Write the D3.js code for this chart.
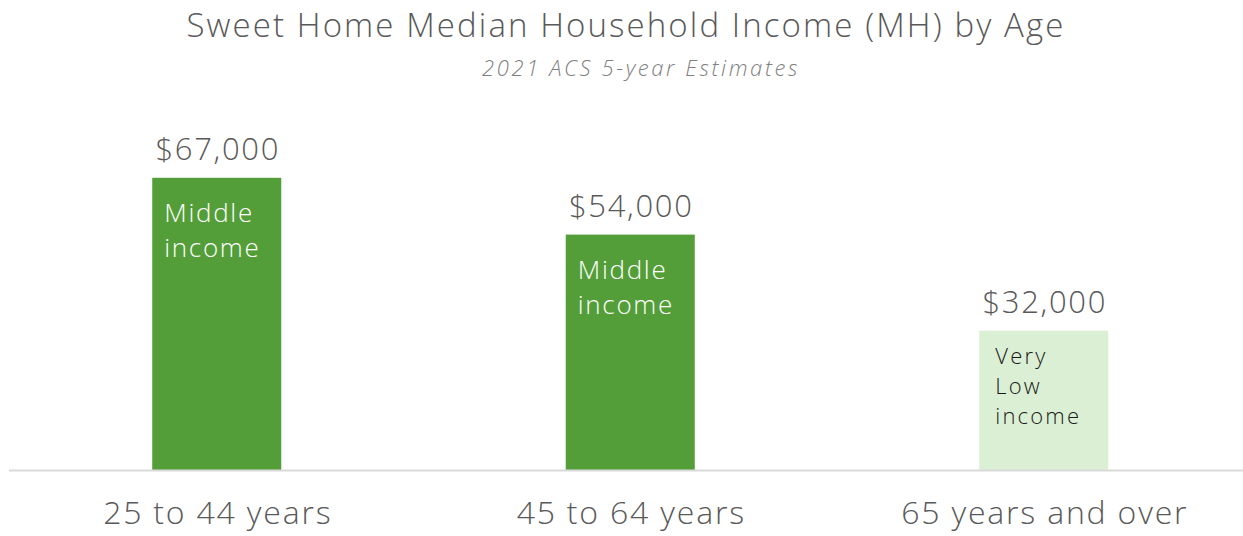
<!DOCTYPE html>
<html>
<head>
<meta charset="utf-8">
<script src="https://cdn.jsdelivr.net/npm/d3@7"></script>
<style>
  html, body { margin: 0; padding: 0; background: #fff; }
  svg { display: block; font-family: "Open Sans", "DejaVu Sans", sans-serif; }
</style>
</head>
<body>
<svg id="chart" width="1243" height="536"></svg>
<script>
const categories = ["25 to 44 years", "45 to 64 years", "65 years and over"];
const values = [67000, 54000, 32000];
const valueLabels = ["$67,000", "$54,000", "$32,000"];
const incomeClass = [["Middle", "income"], ["Middle", "income"], ["Very", "Low", "income"]];
const classKind = ["middle", "middle", "verylow"];
const title = "Sweet Home Median Household Income (MH) by Age";
const subtitle = "2021 ACS 5-year Estimates";

const W = 1243, H = 536;
const svg = d3.select("#chart");

const fill = { middle: "#549e39", verylow: "#daefd4" };
const textFill = { middle: "#ffffff", verylow: "#1a1a1a" };

const x = d3.scaleBand().domain(categories).range([10, 1250.5]).paddingInner(0.688).paddingOuter(0.344);
const y = d3.scaleLinear().domain([0, 80000]).range([470.5, 121]);

svg.append("text").attr("x", 626).attr("y", 37).attr("text-anchor", "middle")
  .attr("font-size", 33).attr("font-weight", 300).attr("letter-spacing", 2.1)
  .attr("fill", "#595959").text(title);
svg.append("text").attr("x", 641).attr("y", 76).attr("text-anchor", "middle")
  .attr("font-size", 22).attr("font-style", "italic").attr("font-weight", 300)
  .attr("letter-spacing", 2.6).attr("fill", "#7f7f7f").text(subtitle);

const data = categories.map((c, i) => ({ c, v: values[i], lab: valueLabels[i], lines: incomeClass[i], kind: classKind[i] }));

svg.selectAll("rect.bar").data(data).join("rect").attr("class", "bar")
  .attr("x", d => x(d.c)).attr("width", x.bandwidth())
  .attr("y", d => y(d.v)).attr("height", d => y(0) - y(d.v))
  .attr("fill", d => fill[d.kind]);

svg.selectAll("text.val").data(data).join("text").attr("class", "val")
  .attr("x", d => x(d.c) + x.bandwidth() / 2 + 1).attr("y", d => y(d.v) - 18)
  .attr("text-anchor", "middle").attr("font-size", 31).attr("font-weight", 300)
  .attr("letter-spacing", 1.7).attr("fill", "#595959")
  .text(d => d.lab);

data.forEach(d => {
  const big = d.kind === "middle";
  const lx = x(d.c) + (big ? 12 : 16);
  const t = svg.append("text")
    .attr("x", lx)
    .attr("y", y(d.v) + (big ? 44 : 33))
    .attr("font-size", big ? 26 : 22)
    .attr("font-weight", 300)
    .attr("letter-spacing", big ? 1.7 : 2.2)
    .attr("fill", textFill[d.kind]);
  d.lines.forEach((ln, j) => {
    t.append("tspan").attr("x", lx).attr("dy", j === 0 ? 0 : (big ? 35.5 : 30)).text(ln);
  });
});

const axis = d3.axisBottom(x).tickSize(0).tickPadding(31);
const g = svg.append("g").attr("transform", `translate(0,${y(0)})`).call(axis);
g.select(".domain").remove();
g.append("line").attr("x1", 9).attr("x2", W).attr("y1", 0).attr("y2", 0)
  .attr("stroke", "#d9d9d9").attr("stroke-width", 2);
g.selectAll(".tick text").attr("font-size", 32).attr("font-weight", 300)
  .attr("letter-spacing", 1.8).attr("dx", 1).attr("fill", "#595959")
  .attr("font-family", "\"Open Sans\", sans-serif");
</script>
</body>
</html>
